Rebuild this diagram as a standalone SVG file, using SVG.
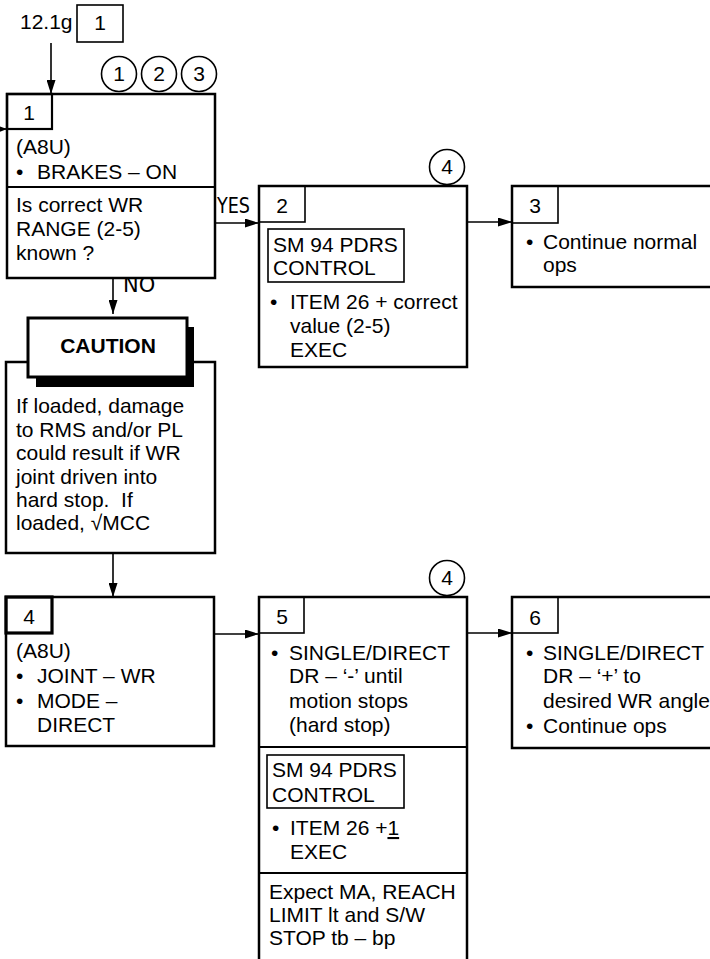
<svg xmlns="http://www.w3.org/2000/svg" width="710" height="959" viewBox="0 0 710 959">
<style>
  text { font-family: "Liberation Sans", Arial, sans-serif; font-size: 21px; fill: #000; }
  .c { text-anchor: middle; }
  .b { font-weight: bold; }
  .yn { font-family: "DejaVu Sans", sans-serif; }
  .box { fill: #fff; stroke: #000; stroke-width: 2.5; }
  .lbl { fill: none; stroke: #000; stroke-width: 1.6; }
  .thin { fill: none; stroke: #000; stroke-width: 1.6; }
  .div { stroke: #000; stroke-width: 2.2; }
  .circ { fill: #fff; stroke: #000; stroke-width: 1.6; }
  .conn { fill: none; stroke: #000; stroke-width: 1.6; }
</style>
<defs>
  <marker id="arr" markerWidth="14" markerHeight="9" refX="14" refY="4.5" orient="auto" markerUnits="userSpaceOnUse">
    <path d="M0,0 L14,4.5 L0,9 z" fill="#000"/>
  </marker>
  <marker id="arrs" markerWidth="8" markerHeight="6" refX="8" refY="3" orient="auto" markerUnits="userSpaceOnUse">
    <path d="M0,0 L8,3 L0,6 z" fill="#000"/>
  </marker>
</defs>
<rect width="710" height="959" fill="#fff"/>

<g id="connectors">
  <line class="conn" x1="51" y1="43" x2="51" y2="94" marker-end="url(#arr)"/>
  <line class="conn" x1="0" y1="129" x2="7" y2="129" marker-end="url(#arrs)"/>
  <line class="conn" x1="215" y1="223" x2="259" y2="223" marker-end="url(#arr)"/>
  <line class="conn" x1="467" y1="222" x2="512" y2="222" marker-end="url(#arr)"/>
  <line class="conn" x1="113" y1="278" x2="113" y2="314" marker-end="url(#arr)"/>
  <line class="conn" x1="113" y1="553" x2="113" y2="597" marker-end="url(#arr)"/>
  <line class="conn" x1="214" y1="634" x2="259" y2="634" marker-end="url(#arr)"/>
  <line class="conn" x1="467" y1="633" x2="512" y2="633" marker-end="url(#arr)"/>
  <text class="yn" x="217" y="213" font-size="19" textLength="33" lengthAdjust="spacingAndGlyphs">YES</text>
  <text class="yn" x="123" y="292" font-size="16">NO</text>
</g>

<g id="ref">
  <text x="20" y="29">12.1g</text>
  <rect class="lbl" x="77" y="5" width="46" height="37"/>
  <text class="c" x="100" y="30">1</text>
</g>

<g id="node1">
  <rect class="box" x="7" y="94" width="208" height="184"/>
  <rect x="7" y="94" width="45" height="35" fill="none" stroke="#000" stroke-width="2.2"/>
  <text class="c" x="29" y="120">1</text>
  <text x="16" y="154">(A8U)</text>
  <text x="16" y="179">•</text>
  <text x="37" y="179">BRAKES – ON</text>
  <line class="div" x1="7" y1="187" x2="215" y2="187"/>
  <text x="16" y="212">Is correct WR</text>
  <text x="16" y="236">RANGE (2-5)</text>
  <text x="16" y="260">known ?</text>
  <circle class="circ" cx="119" cy="74" r="17.5"/>
  <text class="c" x="119" y="81">1</text>
  <circle class="circ" cx="159" cy="74" r="17.5"/>
  <text class="c" x="159" y="81">2</text>
  <circle class="circ" cx="199" cy="74" r="17.5"/>
  <text class="c" x="199" y="81">3</text>
</g>

<g id="node2">
  <rect class="box" x="259" y="186" width="208" height="181"/>
  <rect class="lbl" x="259" y="186" width="46" height="36"/>
  <text class="c" x="282" y="213">2</text>
  <rect class="thin" x="268" y="229" width="136" height="53" stroke-width="2"/>
  <text x="273" y="252">SM 94 PDRS</text>
  <text x="273" y="275">CONTROL</text>
  <text x="270" y="309">•</text>
  <text x="290" y="309">ITEM 26 + correct</text>
  <text x="290" y="333">value (2-5)</text>
  <text x="290" y="357">EXEC</text>
  <circle class="circ" cx="447" cy="167" r="17.5"/>
  <text class="c" x="447" y="174">4</text>
</g>

<g id="node3">
  <rect class="box" x="512" y="186" width="210" height="101"/>
  <rect class="lbl" x="512" y="186" width="46" height="37"/>
  <text class="c" x="535" y="213">3</text>
  <text x="526" y="249">•</text>
  <text x="543" y="249">Continue normal</text>
  <text x="543" y="272">ops</text>
</g>

<g id="caution">
  <rect class="box" x="6" y="362" width="209" height="191"/>
  <rect x="36" y="327" width="158" height="60" fill="#000"/>
  <rect x="28" y="318" width="159" height="59" fill="#fff" stroke="#000" stroke-width="3"/>
  <text class="c b" x="108" y="353">CAUTION</text>
  <text x="16" y="413">If loaded, damage</text>
  <text x="16" y="437">to RMS and/or PL</text>
  <text x="16" y="460">could result if WR</text>
  <text x="16" y="484">joint driven into</text>
  <text x="16" y="507" xml:space="preserve">hard stop.  If</text>
  <text x="16" y="530">loaded, √MCC</text>
</g>

<g id="node4">
  <rect class="box" x="6" y="597" width="208" height="149"/>
  <rect x="6" y="597" width="46" height="36" fill="none" stroke="#000" stroke-width="3.2"/>
  <text class="c" x="29" y="624">4</text>
  <text x="16" y="658">(A8U)</text>
  <text x="16" y="683">•</text>
  <text x="37" y="683">JOINT – WR</text>
  <text x="16" y="708">•</text>
  <text x="37" y="708">MODE –</text>
  <text x="37" y="732">DIRECT</text>
</g>

<g id="node5">
  <rect class="box" x="259" y="597" width="208" height="380"/>
  <rect class="lbl" x="259" y="597" width="45" height="36"/>
  <text class="c" x="282" y="624">5</text>
  <text x="271" y="660">•</text>
  <text x="289" y="660">SINGLE/DIRECT</text>
  <text x="289" y="683">DR – ‘-’ until</text>
  <text x="289" y="708">motion stops</text>
  <text x="289" y="732">(hard stop)</text>
  <line class="div" x1="259" y1="747" x2="467" y2="747"/>
  <rect class="thin" x="267" y="755" width="137" height="53" stroke-width="2"/>
  <text x="272" y="777">SM 94 PDRS</text>
  <text x="272" y="802">CONTROL</text>
  <text x="272" y="835">•</text>
  <text x="290" y="835">ITEM 26 +<tspan text-decoration="underline">1</tspan></text>
  <text x="290" y="859">EXEC</text>
  <line class="div" x1="259" y1="873" x2="467" y2="873"/>
  <text x="269" y="899">Expect MA, REACH</text>
  <text x="269" y="922">LIMIT lt and S/W</text>
  <text x="269" y="945">STOP tb – bp</text>
  <circle class="circ" cx="447" cy="578" r="17.5"/>
  <text class="c" x="447" y="585">4</text>
</g>

<g id="node6">
  <rect class="box" x="512" y="597" width="210" height="151"/>
  <rect class="lbl" x="512" y="597" width="46" height="36"/>
  <text class="c" x="535" y="625">6</text>
  <text x="526" y="660">•</text>
  <text x="543" y="660">SINGLE/DIRECT</text>
  <text x="543" y="683">DR – ‘+’ to</text>
  <text x="543" y="708">desired WR angle</text>
  <text x="526" y="733">•</text>
  <text x="543" y="733">Continue ops</text>
</g>
</svg>
